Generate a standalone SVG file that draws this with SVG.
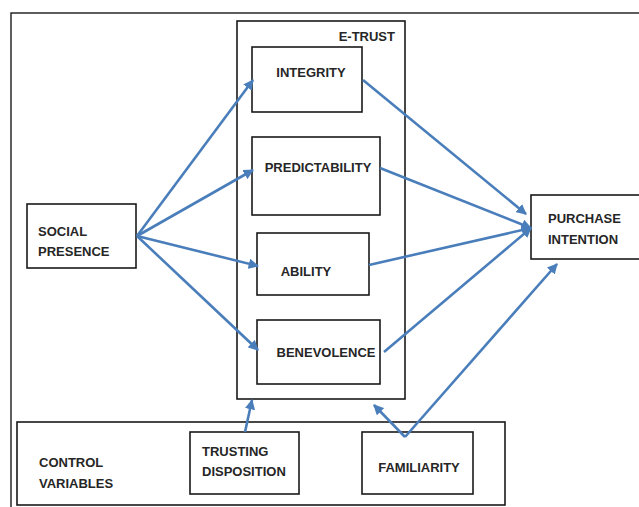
<svg xmlns="http://www.w3.org/2000/svg" width="639" height="507" viewBox="0 0 639 507">
  <style>
    .box { fill: #ffffff; stroke: #1a1a1a; stroke-width: 1.6; }
    .frame { fill: none; stroke: #1a1a1a; stroke-width: 1.4; }
    .lbl { font-family: "Liberation Sans", Arial, sans-serif; font-weight: bold; font-size: 13px; fill: #262626; }
    .arr { fill: none; stroke: #4a7ebb; stroke-width: 2.6; marker-end: url(#head); }
  </style>
  <defs>
    <marker id="head" viewBox="0 0 10 10" refX="9" refY="5" markerWidth="4" markerHeight="4" orient="auto" markerUnits="strokeWidth">
      <path d="M0,0 L10,5 L0,10 Z" fill="#4a7ebb"/>
    </marker>
  </defs>

  <rect width="639" height="507" fill="#ffffff"/>
  <!-- outer frame -->
  <rect class="frame" x="11" y="13" width="700" height="600"/>

  <!-- e-trust container -->
  <g id="e-trust">
    <rect class="box" x="237" y="21" width="168" height="378"/>
    <text class="lbl" x="395" y="41" text-anchor="end">E-TRUST</text>
  </g>

  <g id="integrity">
    <rect class="box" x="252" y="47" width="110" height="65"/>
    <text class="lbl" x="311" y="77" text-anchor="middle">INTEGRITY</text>
  </g>

  <g id="predictability">
    <rect class="box" x="252" y="137" width="128" height="78"/>
    <text class="lbl" x="318" y="172" text-anchor="middle">PREDICTABILITY</text>
  </g>

  <g id="ability">
    <rect class="box" x="257" y="233" width="112" height="62"/>
    <text class="lbl" x="306" y="276" text-anchor="middle">ABILITY</text>
  </g>

  <g id="benevolence">
    <rect class="box" x="257" y="320" width="123" height="64"/>
    <text class="lbl" x="326" y="357" text-anchor="middle">BENEVOLENCE</text>
  </g>

  <g id="social-presence">
    <rect class="box" x="27" y="204" width="109" height="64"/>
    <text class="lbl" x="38" y="236">SOCIAL</text>
    <text class="lbl" x="38" y="256">PRESENCE</text>
  </g>

  <g id="purchase-intention">
    <rect class="box" x="531" y="195" width="140" height="64"/>
    <text class="lbl" x="548" y="223">PURCHASE</text>
    <text class="lbl" x="548" y="244">INTENTION</text>
  </g>

  <g id="control-variables">
    <rect class="box" x="17" y="422" width="488" height="83"/>
    <text class="lbl" x="39" y="467">CONTROL</text>
    <text class="lbl" x="39" y="488">VARIABLES</text>
  </g>

  <g id="trusting-disposition">
    <rect class="box" x="190" y="432" width="109" height="62"/>
    <text class="lbl" x="202" y="456">TRUSTING</text>
    <text class="lbl" x="202" y="476">DISPOSITION</text>
  </g>

  <g id="familiarity">
    <rect class="box" x="362" y="432" width="111" height="62"/>
    <text class="lbl" x="419" y="472" text-anchor="middle">FAMILIARITY</text>
  </g>

  <g id="connectors">
    <!-- social presence to the trust dimensions -->
    <path class="arr" d="M137,236 L253,80"/>
    <path class="arr" d="M137,236 L253,170"/>
    <path class="arr" d="M137,236 L258,266"/>
    <path class="arr" d="M137,236 L258,350"/>
    <!-- trust dimensions to purchase intention -->
    <path class="arr" d="M363,80 L526,214"/>
    <path class="arr" d="M380,168 L531,228"/>
    <path class="arr" d="M369,265 L531,228"/>
    <path class="arr" d="M384,352 L531,228"/>
    <!-- control variables -->
    <path class="arr" d="M245,432 L252,400"/>
    <path class="arr" d="M405,437 L374,405"/>
    <path class="arr" d="M405,437 L557,264"/>
  </g>
</svg>
